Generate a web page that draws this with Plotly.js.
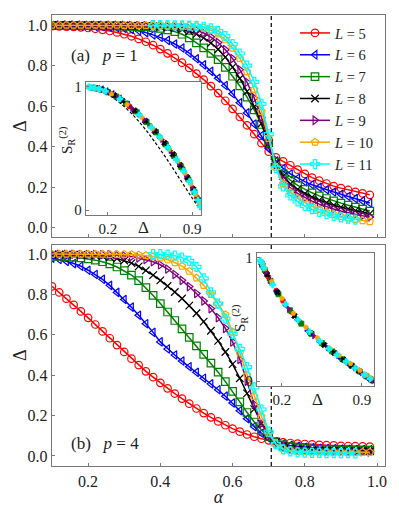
<!DOCTYPE html>
<html><head><meta charset="utf-8">
<script src="https://cdn.plot.ly/plotly-3.0.1.min.js"></script>
<style>html,body{margin:0;padding:0;background:#fff}#chart{width:399px;height:507px}</style>
</head><body><div id="chart"></div>
<script>
// ---------------- data ----------------
const alpha = [0.10,0.12,0.14,0.16,0.18,0.20,0.22,0.24,0.26,0.28,0.30,0.32,0.34,0.36,0.38,0.40,0.42,0.44,0.46,0.48,0.50,0.52,0.54,0.56,0.58,0.60,0.62,0.64,0.66,0.68,0.70,0.72,0.74,0.76,0.78,0.80,0.82,0.84,0.86,0.88,0.90,0.92,0.94,0.96,0.98];
const alpha11 = [0.38,0.40,0.42,0.44,0.46,0.48,0.50,0.52,0.54,0.56,0.58,0.60,0.62,0.64,0.66,0.68,0.70,0.72,0.74,0.76,0.78,0.80,0.82,0.84,0.86,0.88,0.90,0.92,0.94];
const sizesL = ['5','6','7','8','9','10','11'];
const alphaC = 0.7071;

// panel (a) p = 1
const a_L5 = [0.995,0.994,0.993,0.991,0.989,0.986,0.982,0.977,0.971,0.964,0.955,0.945,0.932,0.918,0.901,0.882,0.861,0.839,0.815,0.789,0.761,0.731,0.699,0.665,0.627,0.587,0.547,0.506,0.462,0.418,0.376,0.348,0.328,0.309,0.287,0.266,0.248,0.233,0.219,0.206,0.196,0.187,0.178,0.170,0.163];
const a_L6 = [0.998,0.998,0.997,0.997,0.996,0.995,0.994,0.992,0.990,0.987,0.984,0.979,0.972,0.963,0.952,0.940,0.925,0.907,0.887,0.862,0.834,0.804,0.772,0.738,0.702,0.662,0.617,0.567,0.512,0.455,0.392,0.330,0.293,0.266,0.245,0.228,0.213,0.200,0.188,0.177,0.166,0.155,0.144,0.133,0.123];
const a_L7 = [0.999,0.999,0.999,0.999,0.998,0.998,0.998,0.997,0.997,0.996,0.995,0.994,0.993,0.991,0.988,0.984,0.977,0.968,0.955,0.937,0.913,0.888,0.861,0.830,0.792,0.748,0.700,0.645,0.582,0.510,0.420,0.325,0.268,0.235,0.210,0.190,0.173,0.158,0.145,0.133,0.122,0.112,0.102,0.092,0.083];
const a_L8 = [1.000,1.000,1.000,0.999,0.999,0.999,0.999,0.999,0.998,0.998,0.998,0.997,0.996,0.995,0.994,0.992,0.989,0.985,0.979,0.970,0.956,0.937,0.912,0.881,0.842,0.793,0.737,0.673,0.598,0.515,0.418,0.318,0.255,0.217,0.190,0.169,0.152,0.137,0.124,0.112,0.102,0.093,0.085,0.077,0.070];
const a_L9 = [1.000,1.000,1.000,1.000,1.000,0.999,0.999,0.999,0.999,0.999,0.999,0.998,0.998,0.997,0.996,0.995,0.994,0.992,0.989,0.984,0.975,0.961,0.941,0.914,0.879,0.835,0.780,0.718,0.640,0.545,0.430,0.310,0.238,0.197,0.170,0.149,0.132,0.117,0.104,0.093,0.083,0.074,0.067,0.060,0.054];
const a_L10 = [1.000,1.000,1.000,1.000,1.000,1.000,1.000,1.000,1.000,1.000,0.999,0.999,0.999,0.999,0.999,0.999,0.998,0.998,0.998,0.997,0.994,0.987,0.975,0.957,0.928,0.887,0.836,0.770,0.683,0.575,0.442,0.300,0.218,0.175,0.146,0.124,0.106,0.091,0.078,0.067,0.057,0.049,0.042,0.036,0.031];
const a_L11 = [1.000,1.000,1.000,0.999,0.999,0.998,0.996,0.992,0.984,0.970,0.946,0.907,0.860,0.800,0.720,0.612,0.462,0.295,0.205,0.160,0.130,0.108,0.092,0.079,0.068,0.059,0.052,0.046,0.041];

// panel (b) p = 4
const b_L5 = [0.840,0.810,0.779,0.748,0.716,0.684,0.651,0.617,0.583,0.549,0.515,0.482,0.450,0.419,0.390,0.362,0.335,0.309,0.284,0.259,0.235,0.212,0.191,0.171,0.152,0.135,0.120,0.106,0.095,0.085,0.077,0.071,0.067,0.064,0.061,0.059,0.057,0.055,0.053,0.052,0.050,0.049,0.048,0.047,0.046];
const b_L6 = [0.980,0.973,0.964,0.953,0.940,0.920,0.899,0.875,0.845,0.810,0.775,0.737,0.697,0.655,0.612,0.565,0.530,0.500,0.470,0.442,0.414,0.385,0.357,0.328,0.296,0.262,0.224,0.184,0.145,0.112,0.088,0.070,0.059,0.052,0.047,0.043,0.040,0.038,0.036,0.035,0.034,0.033,0.032,0.031,0.031];
const b_L7 = [0.990,0.989,0.987,0.985,0.981,0.976,0.970,0.962,0.951,0.936,0.918,0.896,0.868,0.834,0.795,0.755,0.713,0.671,0.629,0.587,0.545,0.503,0.460,0.415,0.368,0.320,0.268,0.215,0.168,0.128,0.095,0.070,0.055,0.046,0.040,0.036,0.034,0.032,0.031,0.030,0.029,0.028,0.028,0.027,0.027];
const b_L8 = [0.998,0.998,0.997,0.997,0.996,0.995,0.993,0.990,0.985,0.978,0.968,0.955,0.939,0.919,0.896,0.870,0.842,0.812,0.780,0.745,0.707,0.665,0.620,0.570,0.515,0.455,0.385,0.310,0.232,0.160,0.105,0.068,0.048,0.038,0.033,0.030,0.028,0.027,0.026,0.025,0.025,0.024,0.024,0.023,0.023];
const b_L9 = [0.999,0.999,0.999,0.999,0.998,0.998,0.998,0.997,0.996,0.994,0.991,0.987,0.981,0.973,0.962,0.947,0.926,0.899,0.870,0.839,0.805,0.768,0.730,0.685,0.632,0.565,0.478,0.370,0.255,0.160,0.098,0.060,0.042,0.033,0.029,0.026,0.025,0.024,0.023,0.022,0.022,0.021,0.021,0.021,0.020];
const b_L10 = [1.000,1.000,1.000,1.000,1.000,1.000,1.000,1.000,0.999,0.999,0.999,0.998,0.996,0.993,0.988,0.981,0.972,0.958,0.940,0.915,0.882,0.845,0.800,0.750,0.700,0.615,0.510,0.400,0.295,0.195,0.110,0.058,0.036,0.027,0.023,0.021,0.020,0.020,0.019,0.019,0.019,0.018,0.018,0.018,0.018];
const b_L11 = [1.000,1.000,0.997,0.992,0.983,0.966,0.937,0.880,0.810,0.755,0.680,0.605,0.530,0.440,0.340,0.230,0.120,0.058,0.032,0.022,0.018,0.016,0.015,0.015,0.014,0.014,0.014,0.014,0.013];

// inset (a): S_R^(2) vs Delta
const ia_dash_x = [0.03,0.10,0.20,0.30,0.40,0.50,0.60,0.70,0.80,0.90,0.97];
const ia_dash_y = [1.00,0.985,0.94,0.87,0.78,0.67,0.54,0.40,0.25,0.10,0.00];
const ia_x_L5 = [0.17,0.21,0.26,0.31,0.38,0.46,0.55,0.63,0.70,0.76,0.82,0.87,0.91,0.94];
const ia_y_L5 = [0.969,0.953,0.927,0.895,0.842,0.773,0.684,0.595,0.508,0.426,0.334,0.249,0.170,0.105];
const ia_x_L6 = [0.12,0.15,0.19,0.24,0.30,0.37,0.45,0.53,0.61,0.69,0.76,0.83,0.89,0.93,0.96];
const ia_y_L6 = [0.990,0.986,0.971,0.948,0.912,0.860,0.792,0.715,0.628,0.530,0.436,0.327,0.222,0.137,0.068];
const ia_x_L7 = [0.08,0.11,0.15,0.20,0.27,0.35,0.43,0.52,0.60,0.68,0.75,0.81,0.87,0.92,0.95];
const ia_y_L7 = [0.993,0.987,0.976,0.957,0.921,0.866,0.800,0.715,0.630,0.533,0.440,0.350,0.249,0.148,0.082];
const ia_x_L8 = [0.07,0.10,0.14,0.19,0.25,0.32,0.42,0.51,0.59,0.67,0.74,0.80,0.86,0.91,0.95];
const ia_y_L8 = [0.995,0.989,0.979,0.961,0.933,0.888,0.809,0.725,0.641,0.546,0.454,0.366,0.266,0.170,0.082];
const ia_x_L9 = [0.05,0.07,0.11,0.15,0.20,0.28,0.40,0.50,0.58,0.65,0.72,0.79,0.85,0.90,0.94,0.96];
const ia_y_L9 = [0.998,0.995,0.987,0.976,0.957,0.915,0.826,0.735,0.652,0.571,0.481,0.381,0.283,0.191,0.105,0.058];
const ia_x_L10 = [0.03,0.05,0.08,0.12,0.17,0.23,0.36,0.48,0.57,0.64,0.71,0.78,0.84,0.89,0.93,0.96];
const ia_y_L10 = [1.000,0.998,0.993,0.985,0.969,0.943,0.858,0.754,0.662,0.583,0.494,0.396,0.300,0.212,0.127,0.058];
const ia_x_L11 = [0.04,0.06,0.09,0.13,0.18,0.30,0.46,0.56,0.63,0.70,0.77,0.83,0.88,0.92,0.95,0.97];
const ia_y_L11 = [0.999,0.997,0.991,0.982,0.965,0.902,0.773,0.673,0.595,0.508,0.411,0.317,0.232,0.148,0.082,0.030];

// inset (b)
const ib_x_L5 = [0.05,0.06,0.08,0.11,0.15,0.21,0.28,0.36,0.45,0.55,0.65,0.75,0.84];
const ib_y_L5 = [0.902,0.884,0.848,0.797,0.735,0.650,0.563,0.476,0.391,0.308,0.234,0.165,0.105];
const ib_x_L6 = [0.03,0.04,0.06,0.09,0.15,0.23,0.33,0.42,0.52,0.61,0.70,0.79,0.88,0.95,0.98];
const ib_y_L6 = [0.930,0.911,0.874,0.821,0.725,0.614,0.497,0.408,0.322,0.253,0.189,0.128,0.068,0.022,0.003];
const ib_x_L7 = [0.03,0.05,0.10,0.17,0.27,0.37,0.46,0.55,0.64,0.73,0.81,0.88,0.94,0.98];
const ib_y_L7 = [0.940,0.902,0.814,0.705,0.575,0.466,0.382,0.308,0.241,0.178,0.125,0.078,0.039,0.013];
const ib_x_L8 = [0.02,0.03,0.07,0.16,0.31,0.45,0.57,0.66,0.74,0.81,0.87,0.93,0.97,0.99];
const ib_y_L8 = [0.960,0.940,0.866,0.720,0.529,0.391,0.293,0.227,0.172,0.125,0.085,0.045,0.019,0.006];
const ib_x_L9 = [0.02,0.03,0.06,0.10,0.26,0.48,0.60,0.69,0.77,0.84,0.90,0.94,0.97,0.99];
const ib_y_L9 = [0.960,0.940,0.884,0.814,0.587,0.365,0.270,0.206,0.152,0.105,0.065,0.039,0.019,0.006];
const ib_x_L10 = [0.02,0.03,0.05,0.11,0.20,0.30,0.41,0.51,0.62,0.70,0.80,0.88,0.94,0.98];
const ib_y_L10 = [0.970,0.950,0.912,0.808,0.673,0.550,0.437,0.350,0.265,0.209,0.142,0.088,0.049,0.023];
const ib_x_L11 = [0.01,0.02,0.04,0.12,0.23,0.34,0.44,0.53,0.61,0.68,0.76,0.84,0.92,0.97];
const ib_y_L11 = [0.980,0.960,0.921,0.781,0.624,0.497,0.400,0.324,0.262,0.213,0.158,0.105,0.052,0.019];

// ---------------- build ----------------
const colors = ['#ff0000','#0000ff','#008000','#000000','#800080','#ffa500','#00ffff'];
const symbols = ['circle-open','triangle-left-open','square-open','x-thin-open','triangle-right-open','pentagon-open','cross-open'];
const smallSymbols = ['circle','triangle-left','square','x','triangle-right','pentagon','cross'];
const aSeries = [a_L5,a_L6,a_L7,a_L8,a_L9,a_L10,a_L11];
const bSeries = [b_L5,b_L6,b_L7,b_L8,b_L9,b_L10,b_L11];
const iaX = [ia_x_L5,ia_x_L6,ia_x_L7,ia_x_L8,ia_x_L9,ia_x_L10,ia_x_L11];
const iaY = [ia_y_L5,ia_y_L6,ia_y_L7,ia_y_L8,ia_y_L9,ia_y_L10,ia_y_L11];
const ibX = [ib_x_L5,ib_x_L6,ib_x_L7,ib_x_L8,ib_x_L9,ib_x_L10,ib_x_L11];
const ibY = [ib_y_L5,ib_y_L6,ib_y_L7,ib_y_L8,ib_y_L9,ib_y_L10,ib_y_L11];

const W = 399, H = 507;
const px = v => v / W;
const py = v => 1 - v / H;
const FONT = 'Liberation Serif, DejaVu Serif, serif';
const TXT = '#222';

const traces = [];
sizesL.forEach((L, i) => {
  const xs = i === 6 ? alpha11 : alpha;
  traces.push({
    x: xs, y: aSeries[i], xaxis: 'x', yaxis: 'y', type: 'scatter', mode: 'lines+markers',
    name: '<i>L</i> = ' + L, legendgroup: 'L' + L,
    line: {color: colors[i], width: 1.5},
    marker: {symbol: symbols[i], size: 7.5, color: colors[i], line: {color: colors[i], width: 1.2}}
  });
});
sizesL.forEach((L, i) => {
  const xs = i === 6 ? alpha11 : alpha;
  traces.push({
    x: xs, y: bSeries[i], xaxis: 'x2', yaxis: 'y2', type: 'scatter', mode: 'lines+markers',
    name: '<i>L</i> = ' + L, legendgroup: 'L' + L, showlegend: false,
    line: {color: colors[i], width: 1.5},
    marker: {symbol: symbols[i], size: 7.5, color: colors[i], line: {color: colors[i], width: 1.2}}
  });
});
traces.push({x: ia_dash_x, y: ia_dash_y, xaxis: 'x3', yaxis: 'y3', type: 'scatter', mode: 'lines',
  line: {color: '#000', width: 1.2, dash: '3px,2px', shape: 'spline'}, showlegend: false, hoverinfo: 'skip'});
sizesL.forEach((L, i) => {
  traces.push({x: iaX[i], y: iaY[i], xaxis: 'x3', yaxis: 'y3', type: 'scatter', mode: 'markers', showlegend: false,
    marker: {symbol: smallSymbols[i], size: 5, color: colors[i], line: {color: colors[i], width: 0.8}}});
});
sizesL.forEach((L, i) => {
  traces.push({x: ibX[i], y: ibY[i], xaxis: 'x4', yaxis: 'y4', type: 'scatter', mode: 'markers', showlegend: false,
    marker: {symbol: smallSymbols[i], size: 5, color: colors[i], line: {color: colors[i], width: 0.8}}});
});

const frame = {showline: true, mirror: true, linecolor: '#777', linewidth: 1.3, ticks: 'inside', ticklen: 3,
  tickcolor: '#777', showgrid: false, zeroline: false, tickfont: {family: FONT, size: 16, color: TXT}};
const mainTicks = [0.0,0.2,0.4,0.6,0.8,1.0];
const mainTickText = ['0.0','0.2','0.4','0.6','0.8','1.0'];
const insetTickFont = {family: FONT, size: 15, color: TXT};

const layout = {
  width: W, height: H, margin: {l: 0, r: 0, t: 0, b: 0},
  paper_bgcolor: '#fff', plot_bgcolor: '#fff',
  font: {family: FONT, size: 16, color: TXT},
  showlegend: true,
  legend: {x: px(295), y: py(17), xanchor: 'left', yanchor: 'top', bgcolor: 'rgba(0,0,0,0)',
    font: {family: FONT, size: 14.5, color: TXT}, itemwidth: 30, tracegroupgap: 0},
  xaxis: Object.assign({}, frame, {domain: [px(52), px(385)], anchor: 'y', range: [0.1, 1.022],
    tickvals: [0.2,0.4,0.6,0.8,1.0], showticklabels: false}),
  yaxis: Object.assign({}, frame, {domain: [py(237), py(15)], anchor: 'x', range: [-0.045, 1.05],
    tickvals: mainTicks, ticktext: mainTickText}),
  xaxis2: Object.assign({}, frame, {domain: [px(52), px(385)], anchor: 'y2', range: [0.1, 1.022],
    tickvals: [0.2,0.4,0.6,0.8,1.0], ticktext: ['0.2','0.4','0.6','0.8','1.0'],
    title: {text: '<i>α</i>', font: {family: FONT, size: 18, color: TXT}, standoff: 2}}),
  yaxis2: Object.assign({}, frame, {domain: [py(466), py(245)], anchor: 'x2', range: [-0.05, 1.045],
    tickvals: mainTicks, ticktext: mainTickText}),
  xaxis3: Object.assign({}, frame, {domain: [px(86), px(201)], anchor: 'y3', range: [0.017, 0.975],
    tickvals: [0.2, 0.9], ticktext: ['0.2','0.9'], tickfont: insetTickFont}),
  yaxis3: Object.assign({}, frame, {domain: [py(215), py(82)], anchor: 'x3', range: [-0.04, 1.04],
    tickvals: [0, 1], ticktext: ['0','1'], tickfont: insetTickFont}),
  xaxis4: Object.assign({}, frame, {domain: [px(257), px(374)], anchor: 'y4', range: [-0.018, 1.005],
    tickvals: [0.2, 0.9], ticktext: ['0.2','0.9'], tickfont: insetTickFont}),
  yaxis4: Object.assign({}, frame, {domain: [py(386), py(253)], anchor: 'x4', range: [-0.04, 1.04],
    tickvals: [0, 1], ticktext: ['0','1'], tickfont: insetTickFont}),
  shapes: [
    {type: 'line', xref: 'x', yref: 'y domain', x0: alphaC, x1: alphaC, y0: 0, y1: 1, layer: 'below',
      line: {color: '#000', width: 1.2, dash: '4px,3px'}},
    {type: 'line', xref: 'x2', yref: 'y2 domain', x0: alphaC, x1: alphaC, y0: 0, y1: 1, layer: 'below',
      line: {color: '#000', width: 1.2, dash: '4px,3px'}}
  ],
  annotations: [
    {xref: 'paper', yref: 'paper', x: px(20), y: py(126), xanchor: 'center', yanchor: 'middle', showarrow: false,
      textangle: -90, text: 'Δ', font: {family: FONT, size: 18, color: TXT}},
    {xref: 'paper', yref: 'paper', x: px(20), y: py(355), xanchor: 'center', yanchor: 'middle', showarrow: false,
      textangle: -90, text: 'Δ', font: {family: FONT, size: 18, color: TXT}},
    {xref: 'paper', yref: 'paper', x: px(69), y: py(55), xanchor: 'left', yanchor: 'middle', showarrow: false,
      text: '(a)   <i>p</i> = 1', font: {family: FONT, size: 17, color: TXT}},
    {xref: 'paper', yref: 'paper', x: px(69), y: py(443), xanchor: 'left', yanchor: 'middle', showarrow: false,
      text: '(b)   <i>p</i> = 4', font: {family: FONT, size: 17, color: TXT}},
    {xref: 'paper', yref: 'paper', x: px(143), y: py(227), xanchor: 'center', yanchor: 'middle', showarrow: false,
      text: 'Δ', font: {family: FONT, size: 17, color: TXT}},
    {xref: 'paper', yref: 'paper', x: px(67), y: py(140), xanchor: 'center', yanchor: 'middle', showarrow: false,
      textangle: -90, text: 'S<sub>R</sub><sup>(2)</sup>', font: {family: FONT, size: 15, color: TXT}},
    {xref: 'paper', yref: 'paper', x: px(317), y: py(399), xanchor: 'center', yanchor: 'middle', showarrow: false,
      text: 'Δ', font: {family: FONT, size: 17, color: TXT}},
    {xref: 'paper', yref: 'paper', x: px(240), y: py(318), xanchor: 'center', yanchor: 'middle', showarrow: false,
      textangle: -90, text: 'S<sub>R</sub><sup>(2)</sup>', font: {family: FONT, size: 15, color: TXT}}
  ]
};

Plotly.newPlot('chart', traces, layout, {staticPlot: true, displayModeBar: false});
</script>
</body></html>
